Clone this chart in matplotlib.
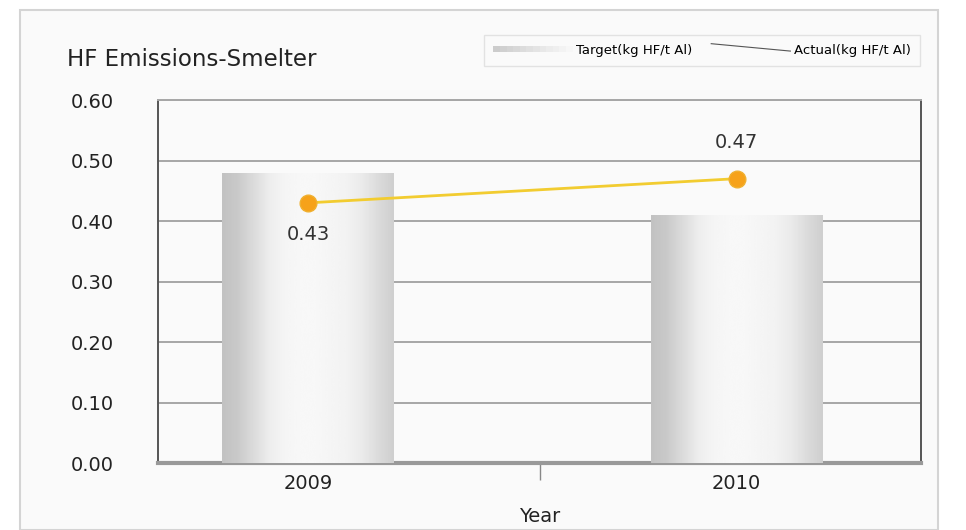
import matplotlib
matplotlib.use("Agg")
import matplotlib.pyplot as plt
import numpy as np
from matplotlib.patches import Rectangle
from matplotlib.lines import Line2D
from matplotlib.legend_handler import HandlerBase

years = ["2009", "2010"]
target = [0.48, 0.41]
actual = [0.43, 0.47]
y_ticks = [0.00, 0.10, 0.20, 0.30, 0.40, 0.50, 0.60]

plt.rcParams['font.family'] = ['DejaVu Sans']

fig = plt.figure(figsize=(9.66, 5.30), dpi=100)
fig.patch.set_facecolor('white')

# light panel behind the chart
fig.patches.append(Rectangle((0.021, 0.0), 0.95, 0.981, transform=fig.transFigure,
                             facecolor='#fafafa', edgecolor='#d4d4d4', linewidth=1.5,
                             zorder=-10))

ax = fig.add_axes([0.1636, 0.1264, 0.7898, 0.6849])
ax.set_facecolor('#fafafa')

x = np.arange(len(years))
bar_w = 0.40
bars = ax.bar(x, target, width=bar_w, color='#eeeeee', edgecolor='none', zorder=2)

# cylinder-like horizontal shading on each bar
shade = np.array([0.76, 0.79, 0.86, 0.93, 0.96, 0.97, 0.97, 0.96, 0.95, 0.92, 0.86, 0.81])
grad = np.interp(np.linspace(0, 1, 200), np.linspace(0, 1, len(shade)), shade)[None, :]
for b in bars:
    im = ax.imshow(grad, cmap='gray', vmin=0, vmax=1, aspect='auto',
                   extent=[b.get_x(), b.get_x() + b.get_width(), 0, b.get_height()],
                   zorder=3, interpolation='bicubic')
    im.set_clip_path(b)

ax.plot(x, actual, color='#f2cc30', linewidth=2, zorder=4)
ax.plot(x, actual, linestyle='none', marker='o', markersize=12,
        markerfacecolor='#f6a21a', markeredgecolor='#f0b030', markeredgewidth=1, zorder=5)

ax.annotate(f"{actual[0]:.2f}", (x[0], actual[0]), xytext=(0, -23), textcoords='offset points',
            ha='center', va='center', fontsize=14, color='#333333', zorder=6)
ax.annotate(f"{actual[1]:.2f}", (x[1], actual[1]), xytext=(0, 26), textcoords='offset points',
            ha='center', va='center', fontsize=14, color='#333333', zorder=6)

ax.set_xlim(-0.35, 1.43)
ax.set_ylim(0, 0.6)
ax.set_yticks(y_ticks)
ax.set_yticklabels([f"{v:.2f}" for v in y_ticks], fontsize=14, color='#222222')
ax.tick_params(axis='y', length=0, pad=32)
ax.set_xticks(x)
ax.set_xticklabels(years, fontsize=14, color='#222222')
ax.tick_params(axis='x', length=0, pad=8)
ax.set_xticks([sum(ax.get_xlim()) / 2], minor=True)
ax.tick_params(axis='x', which='minor', length=12, width=1, color='#888888', direction='out')

ax.grid(axis='y', color='#a6a6a6', linewidth=1.4, zorder=1)
ax.set_axisbelow(True)
for side in ['left', 'right']:
    ax.spines[side].set_color('#555555')
    ax.spines[side].set_linewidth(1.4)
ax.spines['top'].set_color('#a6a6a6')
ax.spines['top'].set_linewidth(1.4)
ax.spines['bottom'].set_color('#999999')
ax.spines['bottom'].set_linewidth(3)

ax.set_xlabel('Year', fontsize=14, color='#222222', labelpad=10)

fig.text(0.069, 0.887, 'HF Emissions-Smelter', fontsize=16.5, color='#222222', va='center')


class GradientHandler(HandlerBase):
    def create_artists(self, legend, orig, xd, yd, w, h, fontsize, trans):
        arts = []
        n = 12
        for i in range(n):
            c = 0.80 + 0.17 * i / (n - 1)
            r = Rectangle((xd + w * i / n, yd + h * 0.15), w / n, h * 0.7,
                          facecolor=(c, c, c), edgecolor='none', transform=trans)
            arts.append(r)
        return arts


class SlopeHandler(HandlerBase):
    def create_artists(self, legend, orig, xd, yd, w, h, fontsize, trans):
        ln = Line2D([xd, xd + w], [yd + h * 1.1, yd + h * 0.3], color='#555555',
                    linewidth=0.8, transform=trans)
        return [ln]


bar_handle = Rectangle((0, 0), 1, 1)
line_handle = Line2D([], [])
leg = fig.legend([bar_handle, line_handle], ['Target(kg HF/t Al)', 'Actual(kg HF/t Al)'],
                 handler_map={bar_handle: GradientHandler(), line_handle: SlopeHandler()},
                 loc='center', bbox_to_anchor=(0.727, 0.905), ncol=2, fontsize=9.5,
                 frameon=True, fancybox=False, handlelength=6, columnspacing=1.4,
                 borderpad=0.7, handletextpad=0.3)
leg.get_frame().set_edgecolor('#dddddd')
leg.get_frame().set_facecolor('#fbfbfb')
leg.get_frame().set_linewidth(1)

fig.savefig('out.png', dpi=100, facecolor=fig.get_facecolor())
